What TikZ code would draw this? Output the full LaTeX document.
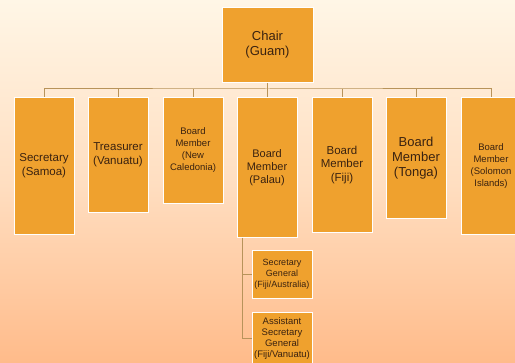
\documentclass[tikz,border=0pt]{standalone}
\usepackage{fontspec}
\setmainfont{Liberation Sans}
\usetikzlibrary{positioning}
\definecolor{post}{HTML}{EFA12E}
\definecolor{ink}{HTML}{3A2210}
\definecolor{wire}{HTML}{B8935A}
\definecolor{cream}{HTML}{FFF6E6}
\definecolor{peach}{HTML}{FFBB8A}

\begin{document}
\begin{tikzpicture}[x=1pt, y=-1pt,
      post/.style={draw=white, line width=0.8pt, fill=post, text=ink,
                   minimum width=60pt, align=center, anchor=north, inner sep=1pt},
      link/.style={wire, line width=1pt}]
    % background
    \shade[top color=cream, bottom color=peach, middle color=cream!60!peach]
      (0,0) rectangle (515,363);
    \useasboundingbox (0,0) rectangle (515,363);
    \node[post, minimum width=91pt, minimum height=75pt, font=\fontsize{13}{15}\selectfont]
      (chair) at (267.5,7) {Chair\\(Guam)};
    \node[post, minimum height=137pt, font=\fontsize{11.5}{13.5}\selectfont]
      (sec) at (44,97) {Secretary\\(Samoa)};
    \node[post, minimum height=115pt, font=\fontsize{11.5}{13.5}\selectfont]
      (tre) at (118,97) {Treasurer\\(Vanuatu)};
    \node[post, minimum height=106pt, font=\fontsize{9.5}{12}\selectfont]
      (cal) at (193,97) {Board\\Member\\(New\\Caledonia)};
    \node[post, minimum height=140pt, font=\fontsize{11}{13}\selectfont]
      (pal) at (267,97) {Board\\Member\\(Palau)};
    \node[post, minimum height=135pt, font=\fontsize{11.5}{13.5}\selectfont]
      (fij) at (342,97) {Board\\Member\\(Fiji)};
    \node[post, minimum height=121pt, font=\fontsize{13}{15}\selectfont]
      (ton) at (416,97) {Board\\Member\\(Tonga)};
    \node[post, minimum height=137pt, font=\fontsize{9.5}{12}\selectfont]
      (sol) at (491,97) {Board\\Member\\(Solomon\\Islands)};
    % secretariat under Palau
    \node[post, minimum height=48pt, font=\fontsize{9}{11}\selectfont]
      (sg) at (282,250) {Secretary\\General\\(Fiji/Australia)};
    \node[post, minimum height=52pt, font=\fontsize{9.5}{11}\selectfont]
      (asg) at (282,312) {Assistant\\Secretary\\General\\(Fiji/Vanuatu)};
    % connectors
    \coordinate (bus) at (267.5,89);
    \draw[link] (chair.south) -- (bus);
    \draw[link] (sec.north) |- (bus) -| (sol.north);
    \foreach \n in {tre, cal, pal, fij, ton}
      \draw[link] (\n.north) -- (\n.north |- bus);
    \draw[link] ([xshift=6pt]pal.south west) |- (sg.west);
    \draw[link] ([xshift=6pt]pal.south west) |- (asg.west);
  \end{tikzpicture}
\end{document}
